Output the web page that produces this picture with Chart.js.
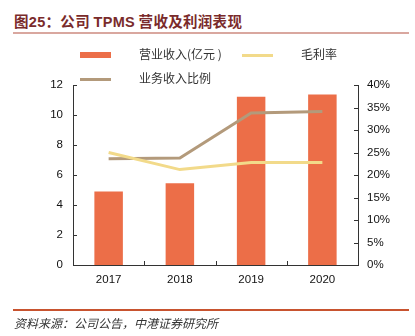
<!DOCTYPE html>
<html>
<head>
<meta charset="utf-8">
<script src="https://cdn.jsdelivr.net/npm/chart.js@4.4.1/dist/chart.umd.min.js"></script>
<style>
  html, body { margin: 0; padding: 0; background: #fff; }
  #wrap { position: relative; width: 415px; height: 336px; overflow: hidden;
          font-family: "Liberation Sans", Arial, "Noto Sans CJK SC", sans-serif; }
  #title { position: absolute; left: 14px; top: 10px; font-size: 14.5px; font-weight: bold;
           color: #7a2b2b; font-family: "Noto Sans CJK SC", sans-serif; white-space: nowrap; letter-spacing: 0.3px; }
  #title .lat { font-family: "Liberation Sans", Arial, sans-serif; }
  #rule1 { position: absolute; left: 13px; top: 32px; width: 396px; height: 2px; background: #d9a79f; }
  #rule2 { position: absolute; left: 13px; top: 309px; width: 396px; height: 1.5px; background: #c8532f; }
  #source { position: absolute; left: 14px; top: 314px; font-size: 12px; font-style: italic;
            color: #333; font-family: "Noto Sans CJK SC", sans-serif; white-space: nowrap; }
  canvas { position: absolute; left: 0; top: 0; }
  .lg { position: absolute; display: flex; align-items: center; font-size: 12px; color: #333;
        font-family: "Noto Sans CJK SC", sans-serif; white-space: nowrap; }
  .sw { position: absolute; }
  .lt { position: absolute; line-height: 14px; }
</style>
</head>
<body>
<div id="wrap">
  <div id="title">图<span class="lat">25</span>：公司 <span class="lat">TPMS</span> 营收及利润表现</div>
  <div id="rule1"></div>
  <canvas id="c" width="415" height="336"></canvas>
  <div id="legend"></div>
  <div id="rule2"></div>
  <div id="source">资料来源：公司公告，中港证券研究所</div>
</div>
<script>
// categories and series
const years = ['2017', '2018', '2019', '2020'];
const revenue = [4.9, 5.45, 11.22, 11.37];      // 营业收入(亿元)
const grossMargin = [25.0, 21.2, 22.8, 22.8];   // 毛利率 (%)
const bizShare = [23.6, 23.8, 33.8, 34.1];      // 业务收入比例 (%)
const leftTicks = [0, 2, 4, 6, 8, 10, 12];
const rightTicks = [0, 5, 10, 15, 20, 25, 30, 35, 40];

const C_BAR = '#ec6e48', C_GM = '#f2da8a', C_BIZ = '#b39a7b', AXIS = '#333';

// short inward tick marks on each axis
const innerTicks = {
  id: 'innerTicks',
  afterDraw(chart) {
    const ctx = chart.ctx, a = chart.chartArea;
    const yl = chart.scales.y, yr = chart.scales.y1, x = chart.scales.x;
    ctx.save();
    ctx.strokeStyle = AXIS; ctx.lineWidth = 1;
    ctx.beginPath();
    leftTicks.forEach(v => {
      const py = Math.round(yl.getPixelForValue(v)) + 0.5;
      ctx.moveTo(a.left, py); ctx.lineTo(a.left + 4, py);
    });
    rightTicks.forEach(v => {
      const py = Math.round(yr.getPixelForValue(v)) + 0.5;
      ctx.moveTo(a.right, py); ctx.lineTo(a.right - 4, py);
    });
    for (let i = 0; i < years.length - 1; i++) {
      const px = Math.round((x.getPixelForValue(i) + x.getPixelForValue(i + 1)) / 2) + 0.5;
      ctx.moveTo(px, a.bottom); ctx.lineTo(px, a.bottom - 4);
    }
    ctx.stroke();
    ctx.restore();
  }
};

const chart = new Chart(document.getElementById('c'), {
  data: {
    labels: years,
    datasets: [
      { type: 'bar', label: '营业收入(亿元 )', data: revenue, backgroundColor: C_BAR,
        yAxisID: 'y', barPercentage: 0.4, categoryPercentage: 1, order: 3 },
      { type: 'line', label: '毛利率', data: grossMargin, borderColor: C_GM, backgroundColor: C_GM,
        borderWidth: 3, pointRadius: 0, tension: 0, yAxisID: 'y1', order: 1 },
      { type: 'line', label: '业务收入比例', data: bizShare, borderColor: C_BIZ, backgroundColor: C_BIZ,
        borderWidth: 3, pointRadius: 0, tension: 0, yAxisID: 'y1', order: 2 }
    ]
  },
  options: {
    responsive: false,
    animation: false,
    layout: { padding: { left: 0, right: 0, top: 85, bottom: 46 } },
    plugins: { legend: { display: false }, tooltip: { enabled: false } },
    scales: {
      x: {
        offset: true,
        grid: { display: false, drawTicks: false },
        border: { display: true, color: AXIS, width: 1 },
        ticks: { color: '#111', padding: 8, font: { family: 'Liberation Sans', size: 11.5 } },
        afterFit(s) { s.height = 25; }
      },
      y: {
        position: 'left', min: 0, max: 12,
        grid: { display: false, drawTicks: false },
        border: { display: true, color: AXIS, width: 1 },
        ticks: { stepSize: 2, color: '#111', padding: 10, font: { family: 'Liberation Sans', size: 11.5 } },
        afterFit(s) { s.width = 73; }
      },
      y1: {
        position: 'right', min: 0, max: 40,
        grid: { display: false, drawTicks: false },
        border: { display: true, color: AXIS, width: 1 },
        ticks: { stepSize: 5, color: '#111', padding: 9, font: { family: 'Liberation Sans', size: 11.5 },
                 callback: v => v + '%' },
        afterFit(s) { s.width = 57; }
      }
    }
  },
  plugins: [innerTicks]
});

// legend built from the datasets
const legendPos = [
  { sx: 80, sy: 55, tx: 139 },
  { sx: 242, sy: 55, tx: 301 },
  { sx: 80, sy: 79, tx: 139 }
];
const lg = document.getElementById('legend');
chart.data.datasets.forEach((ds, i) => {
  const p = legendPos[i];
  const isBar = ds.type === 'bar';
  const h = isBar ? 6 : 3;
  const sw = document.createElement('div');
  sw.className = 'sw';
  sw.style.cssText = `left:${p.sx}px;top:${p.sy - h / 2}px;width:31px;height:${h}px;background:${isBar ? ds.backgroundColor : ds.borderColor};`;
  const tx = document.createElement('div');
  tx.className = 'lg lt';
  tx.style.cssText = `left:${p.tx}px;top:${p.sy - 8}px;`;
  tx.textContent = ds.label;
  lg.appendChild(sw); lg.appendChild(tx);
});
</script>
</body>
</html>
